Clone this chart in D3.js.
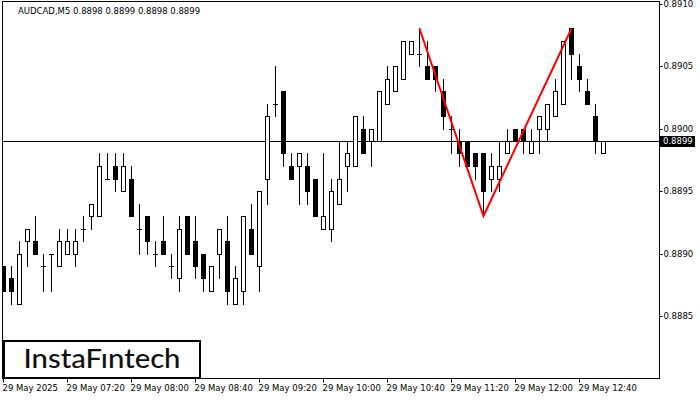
<!DOCTYPE html>
<html>
<head>
<meta charset="utf-8">
<script src="https://cdn.jsdelivr.net/npm/d3@7/dist/d3.min.js"></script>
<style>
  html, body { margin: 0; padding: 0; background: #fff; }
  svg { display: block; }
  text { font-family: "DejaVu Sans", sans-serif; font-size: 8.5px; fill: #000; }
</style>
</head>
<body>
<svg id="chart" width="700" height="400"></svg>
<script>
const title = "AUDCAD,M5  0.8898 0.8899 0.8898 0.8899";
const opens = [0.8889,0.8888,0.8886,0.8891,0.8891,0.8889,0.8890,0.8889,0.8890,0.8890,
  0.8892,0.8893,0.8893,0.8896,0.8897,0.8895,0.8896,0.8892,0.8893,0.8890,
  0.8891,0.8889,0.8888,0.8893,0.8891,0.8890,0.8887,0.8890,0.8891,0.8886,
  0.8887,0.8892,0.8889,0.8896,0.8902,0.8903,0.8897,0.8897,0.8897,0.8896,
  0.8892,0.8892,0.8894,0.8897,0.8897,0.8900,0.8899,0.8899,0.8902,0.8903,
  0.8904,0.8906,0.8906,0.8905,0.8905,0.8903,0.8900,0.8899,0.8899,0.8898,
  0.8898,0.8896,0.8896,0.8898,0.8900,0.8900,0.8898,0.8900,0.8900,0.8901,
  0.8902,0.8908,0.8905,0.8903,0.8901,0.8898];
const highs = [0.8889,0.8889,0.8891,0.8892,0.8893,0.8890,0.8890,0.8892,0.8892,0.8892,
  0.8893,0.8894,0.8898,0.8898,0.8898,0.8898,0.8897,0.8894,0.8893,0.8891,
  0.8893,0.8890,0.8893,0.8893,0.8893,0.8890,0.8889,0.8892,0.8893,0.8889,
  0.8893,0.8894,0.8895,0.8902,0.8905,0.8903,0.8898,0.8898,0.8898,0.8896,
  0.8898,0.8896,0.8899,0.8899,0.8901,0.8901,0.8900,0.8903,0.8905,0.8905,
  0.8907,0.8907,0.8908,0.8907,0.8905,0.8904,0.8901,0.8900,0.8899,0.8898,
  0.8898,0.8898,0.8899,0.8900,0.8900,0.8900,0.8900,0.8901,0.8902,0.8904,
  0.8907,0.8908,0.8906,0.8904,0.8902,0.8899];
const lows = [0.8887,0.8886,0.8886,0.8889,0.8890,0.8887,0.8887,0.8889,0.8890,0.8889,
  0.8891,0.8892,0.8893,0.8896,0.8895,0.8895,0.8893,0.8890,0.8890,0.8889,
  0.8890,0.8888,0.8887,0.8890,0.8888,0.8887,0.8887,0.8888,0.8886,0.8886,
  0.8886,0.8890,0.8887,0.8894,0.8901,0.8897,0.8896,0.8894,0.8894,0.8893,
  0.8892,0.8891,0.8894,0.8895,0.8897,0.8898,0.8897,0.8899,0.8902,0.8903,
  0.8904,0.8906,0.8905,0.8904,0.8903,0.8900,0.8898,0.8897,0.8897,0.8896,
  0.8893,0.8895,0.8895,0.8898,0.8899,0.8898,0.8898,0.8898,0.8899,0.8901,
  0.8902,0.8904,0.8903,0.8902,0.8898,0.8898];
const closes = [0.8887,0.8887,0.8890,0.8892,0.8890,0.8889,0.8890,0.8891,0.8891,0.8891,
  0.8892,0.8894,0.8897,0.8896,0.8896,0.8897,0.8893,0.8892,0.8891,0.8890,
  0.8890,0.8889,0.8892,0.8890,0.8889,0.8888,0.8889,0.8892,0.8887,0.8888,
  0.8893,0.8890,0.8895,0.8901,0.8902,0.8898,0.8896,0.8898,0.8895,0.8893,
  0.8893,0.8895,0.8896,0.8898,0.8901,0.8898,0.8900,0.8903,0.8904,0.8905,
  0.8907,0.8907,0.8906,0.8904,0.8904,0.8901,0.8900,0.8898,0.8897,0.8897,
  0.8895,0.8897,0.8897,0.8899,0.8899,0.8899,0.8899,0.8901,0.8902,0.8903,
  0.8907,0.8906,0.8904,0.8902,0.8899,0.8899];
const timeTickIndex = [0, 8, 16, 24, 32, 40, 48, 56, 64, 72];
const timeTickLabels = ["29 May 2025","29 May 07:20","29 May 08:00","29 May 08:40","29 May 09:20",
  "29 May 10:00","29 May 10:40","29 May 11:20","29 May 12:00","29 May 12:40"];
const priceTicks = [0.8885, 0.8890, 0.8895, 0.8900, 0.8905, 0.8910];
const currentPrice = 0.8899;
const patternIndex = [52, 60, 71];
const patternPrice = [0.8908, 0.8893, 0.8908];
const logoText = "InstaF\u0131ntech";

const svg = d3.select("#chart");
const plot = { left: 2, right: 660, top: 1, bottom: 379 };

const x = d3.scaleLinear().domain([0, opens.length - 1]).range([3, 3 + 8 * (opens.length - 1)]);
const y = d3.scaleLinear().domain([0.8880, 0.8910]).range([378.5, 3.5]);
const py = p => Math.round(y(p)) + 0.5;
const px = i => Math.round(x(i)) + 0.5;

svg.append("defs").append("clipPath").attr("id", "clip")
  .append("rect").attr("x", plot.left).attr("y", plot.top)
  .attr("width", plot.right - plot.left).attr("height", plot.bottom - plot.top);

// plot frame
svg.append("rect")
  .attr("x", plot.left + 0.5).attr("y", plot.top + 0.5)
  .attr("width", plot.right - plot.left - 1).attr("height", plot.bottom - plot.top - 1)
  .attr("fill", "#fff").attr("stroke", "#000").attr("stroke-width", 1);

const g = svg.append("g").attr("clip-path", "url(#clip)");

// current price line
g.append("line")
  .attr("x1", plot.left).attr("x2", plot.right)
  .attr("y1", py(currentPrice)).attr("y2", py(currentPrice))
  .attr("stroke", "#000").attr("stroke-width", 1);

const candles = opens.map((o, i) => ({ i, o, h: highs[i], l: lows[i], c: closes[i] }));

const cg = g.selectAll("g.candle").data(candles).join("g").attr("class", "candle");
cg.append("line")
  .attr("x1", d => px(d.i)).attr("x2", d => px(d.i))
  .attr("y1", d => py(d.h) - 0.5).attr("y2", d => py(d.l) + 0.5)
  .attr("stroke", "#000").attr("stroke-width", 1);
cg.each(function(d) {
  const sel = d3.select(this);
  const cx = Math.round(x(d.i));
  if (d.o === d.c) {
    sel.append("line")
      .attr("x1", cx - 2).attr("x2", cx + 3)
      .attr("y1", py(d.o)).attr("y2", py(d.o))
      .attr("stroke", "#000").attr("stroke-width", 1);
  } else if (d.c > d.o) {
    sel.append("rect")
      .attr("x", cx - 1.5).attr("width", 4)
      .attr("y", py(d.c)).attr("height", py(d.o) - py(d.c))
      .attr("fill", "#fff").attr("stroke", "#000").attr("stroke-width", 1);
  } else {
    sel.append("rect")
      .attr("x", cx - 1.5).attr("width", 4)
      .attr("y", py(d.o)).attr("height", py(d.c) - py(d.o))
      .attr("fill", "#000").attr("stroke", "#000").attr("stroke-width", 1);
  }
});

// pattern line
const pat = patternIndex.map((idx, k) => [x(idx) + 0.5, y(patternPrice[k])]);
g.append("path")
  .attr("d", d3.line()(pat))
  .attr("fill", "none").attr("stroke", "#ff0000").attr("stroke-width", 2)
  .attr("stroke-linejoin", "miter");

// title
svg.append("text").attr("x", 18).attr("y", 14).text(title);

// right axis
const yAxis = d3.axisRight(y).tickValues(priceTicks).tickFormat(d3.format(".4f")).tickSize(3).tickPadding(1);
const ya = svg.append("g").attr("transform", `translate(${plot.right - 0.5},0)`).call(yAxis);
ya.select(".domain").remove();
ya.selectAll("text").attr("font-family", "DejaVu Sans").attr("font-size", 8.5).attr("fill", "#000");
ya.selectAll("line").attr("stroke", "#000");
ya.selectAll(".tick").attr("transform", d => `translate(0,${py(d)})`);

// current price label
svg.append("rect").attr("x", 660).attr("y", py(currentPrice) - 5.5).attr("width", 35).attr("height", 11).attr("fill", "#000");
svg.append("text").attr("x", 663).attr("y", py(currentPrice)).attr("dy", "0.32em")
  .style("fill", "#fff").text(d3.format(".4f")(currentPrice));

// bottom axis
const xAxis = d3.axisBottom(x).tickValues(timeTickIndex)
  .tickFormat((d, k) => timeTickLabels[k]).tickSize(4).tickPadding(2);
const xa = svg.append("g").attr("transform", `translate(0,${plot.bottom - 0.5})`).call(xAxis);
xa.select(".domain").remove();
xa.selectAll(".tick").attr("transform", d => `translate(${px(d)},0)`);
xa.selectAll("text").attr("text-anchor", "start").attr("x", -1)
  .attr("font-family", "DejaVu Sans").attr("font-size", 8.5).attr("fill", "#000");
xa.selectAll("line").attr("stroke", "#000");

// logo
svg.append("rect").attr("x", 4).attr("y", 341).attr("width", 196).attr("height", 37)
  .attr("fill", "#fff").attr("stroke", "#000").attr("stroke-width", 2);
svg.append("text").attr("x", 102).attr("y", 368).attr("text-anchor", "middle")
  .attr("textLength", 157).attr("lengthAdjust", "spacingAndGlyphs")
  .style("font-family", "Lato, 'Open Sans', sans-serif").style("font-size", "26px").style("font-weight", "500")
  .style("fill", "#111").text(logoText);
</script>
</body>
</html>
